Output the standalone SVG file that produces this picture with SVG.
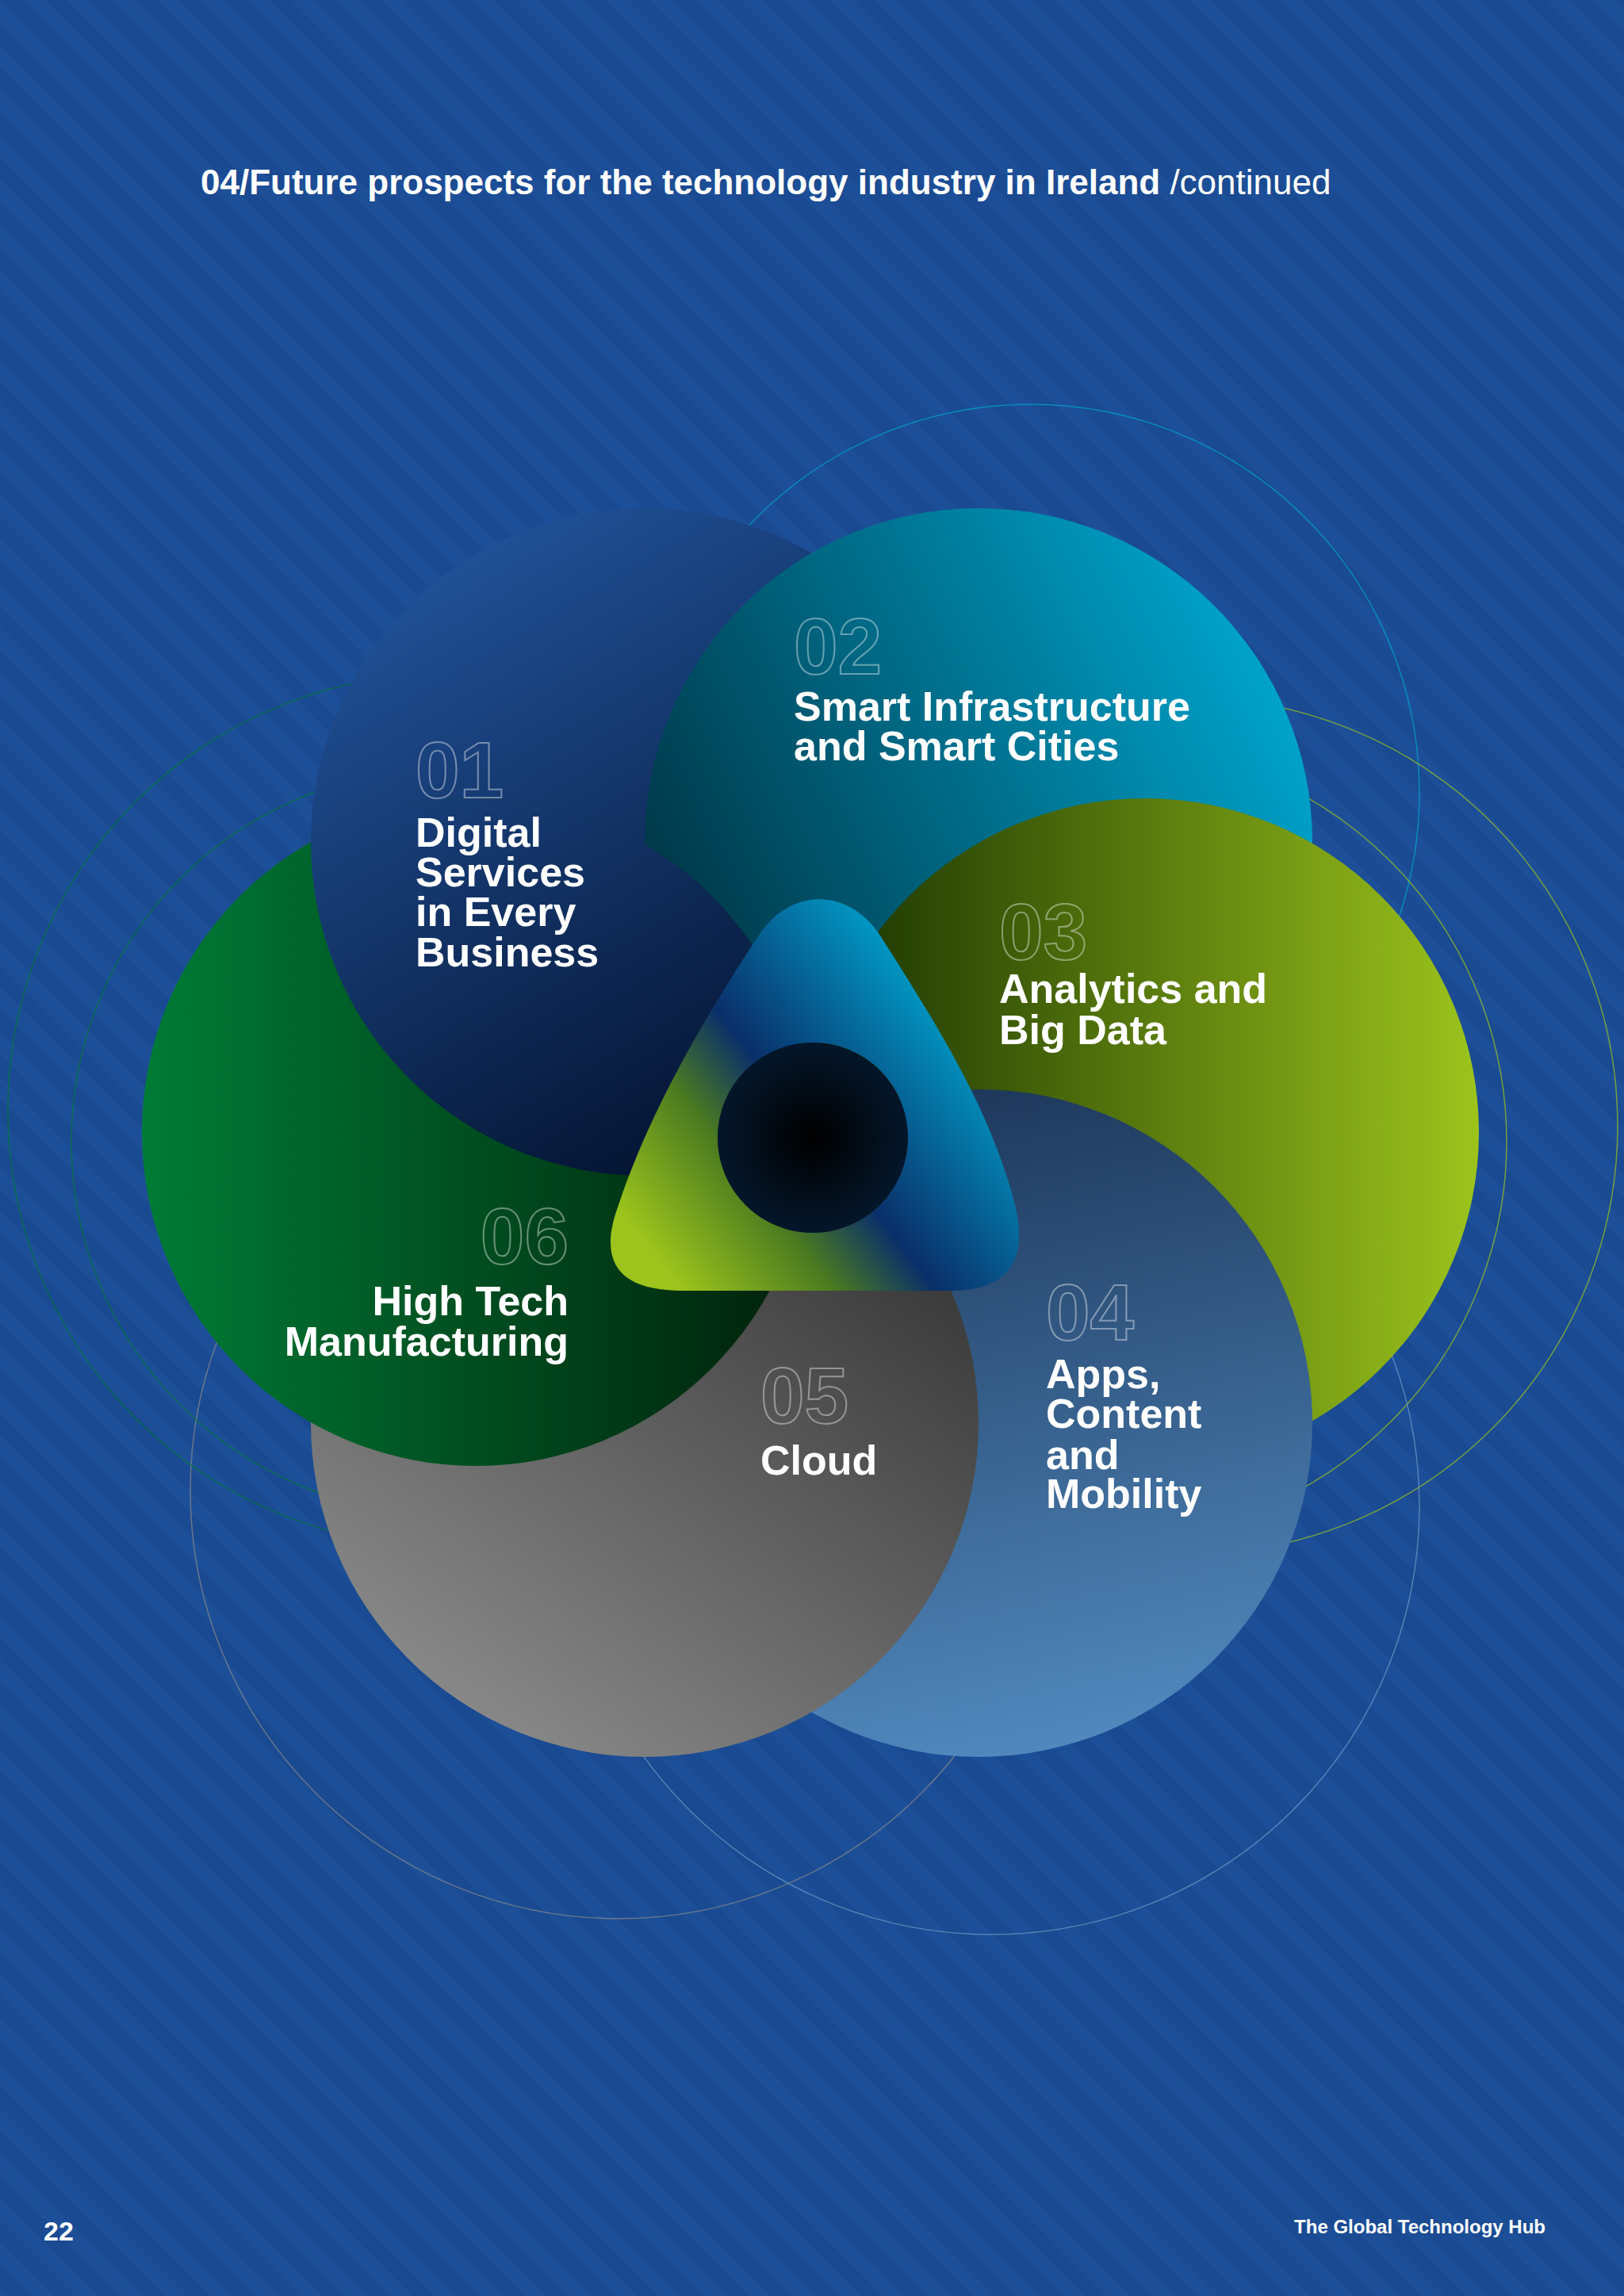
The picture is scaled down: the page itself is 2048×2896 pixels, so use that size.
<svg xmlns="http://www.w3.org/2000/svg" width="2048" height="2896" viewBox="0 0 2048 2896">
<defs>
<pattern id="stripes" width="40" height="40" patternUnits="userSpaceOnUse" patternTransform="rotate(-45)">
<rect width="40" height="40" fill="#1d4f98"/><rect width="20" height="40" fill="#1a4a91"/>
</pattern>
<linearGradient id="g1" x1="0.2" y1="0" x2="0.8" y2="1"><stop offset="0" stop-color="#22559e"/><stop offset="1" stop-color="#000a22"/></linearGradient>
<linearGradient id="g2" x1="1" y1="0.3" x2="0" y2="0.8"><stop offset="0" stop-color="#00a6cf"/><stop offset="1" stop-color="#002a38"/></linearGradient>
<linearGradient id="g3" x1="1" y1="0" x2="0" y2="0"><stop offset="0" stop-color="#9cc41c"/><stop offset="1" stop-color="#163000"/></linearGradient>
<linearGradient id="g4" x1="0.5" y1="1" x2="0.3" y2="0"><stop offset="0" stop-color="#5088bd"/><stop offset="1" stop-color="#1c3558"/></linearGradient>
<linearGradient id="g5" x1="0.2" y1="1" x2="0.9" y2="0"><stop offset="0" stop-color="#8e8e8e"/><stop offset="1" stop-color="#2a2a2a"/></linearGradient>
<linearGradient id="g6" x1="0" y1="0" x2="1" y2="0"><stop offset="0" stop-color="#007c36"/><stop offset="1" stop-color="#001f0a"/></linearGradient>
<linearGradient id="gt" x1="0.1" y1="0.9" x2="0.9" y2="0.3"><stop offset="0" stop-color="#9cc41c"/><stop offset="0.3" stop-color="#4a7a20"/><stop offset="0.5" stop-color="#0a2f6a"/><stop offset="1" stop-color="#00a6cf"/></linearGradient>
<radialGradient id="gh"><stop offset="0" stop-color="#000"/><stop offset="1" stop-color="#04162a"/></radialGradient>
<clipPath id="c6"><circle cx="600" cy="1428" r="421"/></clipPath>
<style>
.lbl{font-family:"Liberation Sans",Arial,sans-serif;font-weight:bold;font-size:52px;fill:#fff}
.num{font-family:"Liberation Sans",Arial,sans-serif;font-weight:bold;font-size:100px;fill:none;stroke:#fff;stroke-opacity:0.4;stroke-width:2}
.arc{fill:none;stroke-width:1.5;stroke-opacity:0.7}
</style>
</defs>
<rect width="2048" height="2896" fill="url(#stripes)"/>
<g id="arcs">
<circle class="arc" cx="1300" cy="1000" r="490" stroke="#00a6cf"/>
<circle class="arc" cx="1500" cy="1420" r="540" stroke="#9cc41c"/>
<circle class="arc" cx="1400" cy="1440" r="500" stroke="#9cc41c"/>
<circle class="arc" cx="1250" cy="1900" r="540" stroke="#6f9ac8"/>
<circle class="arc" cx="780" cy="1880" r="540" stroke="#8a8a8a"/>
<circle class="arc" cx="560" cy="1400" r="550" stroke="#007c36"/>
<circle class="arc" cx="560" cy="1440" r="470" stroke="#007c36"/>
</g>
<text x="253" y="245" font-family="Liberation Sans,Arial,sans-serif" font-size="44" fill="#fff"><tspan font-weight="bold">04/Future prospects for the technology industry in Ireland</tspan> /continued</text>
<g id="n01"><circle cx="813" cy="1062" r="421" fill="url(#g1)"/></g>
<g id="n02"><circle cx="1234" cy="1062" r="421" fill="url(#g2)"/></g>
<g id="n03"><circle cx="1444" cy="1428" r="421" fill="url(#g3)"/></g>
<g id="n04"><circle cx="1234" cy="1795" r="421" fill="url(#g4)"/></g>
<g id="n05"><circle cx="813" cy="1795" r="421" fill="url(#g5)"/></g>
<g id="n06"><circle cx="600" cy="1428" r="421" fill="url(#g6)"/></g>
<circle cx="813" cy="1062" r="421" fill="url(#g1)" clip-path="url(#c6)"/>
<g id="center">
<path fill-rule="evenodd" fill="url(#gt)" d="M960 1175 C1000 1120 1070 1120 1110 1180 C1180 1290 1250 1400 1280 1520 C1300 1600 1260 1628 1200 1628 L860 1628 C790 1628 750 1600 780 1520 C820 1400 890 1280 960 1175 Z M1025 1315 a120 120 0 1 0 0.1 0 Z"/>
<circle cx="1025" cy="1435" r="120" fill="url(#gh)"/>
</g>
<text class="num" x="524" y="1006">01</text>
<text class="lbl"><tspan x="524" y="1068">Digital</tspan><tspan x="524" y="1118">Services</tspan><tspan x="524" y="1168">in Every</tspan><tspan x="524" y="1219">Business</tspan></text>
<text class="num" x="1001" y="850">02</text>
<text class="lbl"><tspan x="1001" y="909">Smart Infrastructure</tspan><tspan x="1001" y="959">and Smart Cities</tspan></text>
<text class="num" x="1260" y="1210">03</text>
<text class="lbl"><tspan x="1260" y="1265">Analytics and</tspan><tspan x="1260" y="1317">Big Data</tspan></text>
<text class="num" x="1319" y="1690">04</text>
<text class="lbl"><tspan x="1319" y="1751">Apps,</tspan><tspan x="1319" y="1801">Content</tspan><tspan x="1319" y="1853">and</tspan><tspan x="1319" y="1902">Mobility</tspan></text>
<text class="num" x="959" y="1795">05</text>
<text class="lbl" x="959" y="1860">Cloud</text>
<text class="num" x="717" y="1594" text-anchor="end">06</text>
<text class="lbl" text-anchor="end"><tspan x="717" y="1659">High Tech</tspan><tspan x="717" y="1710">Manufacturing</tspan></text>
<text x="55" y="2826" font-family="Liberation Sans,Arial,sans-serif" font-weight="bold" font-size="34" fill="#fff">22</text>
<text x="1949" y="2817" text-anchor="end" font-family="Liberation Sans,Arial,sans-serif" font-weight="bold" font-size="24" fill="#fff">The Global Technology Hub</text>
</svg>
